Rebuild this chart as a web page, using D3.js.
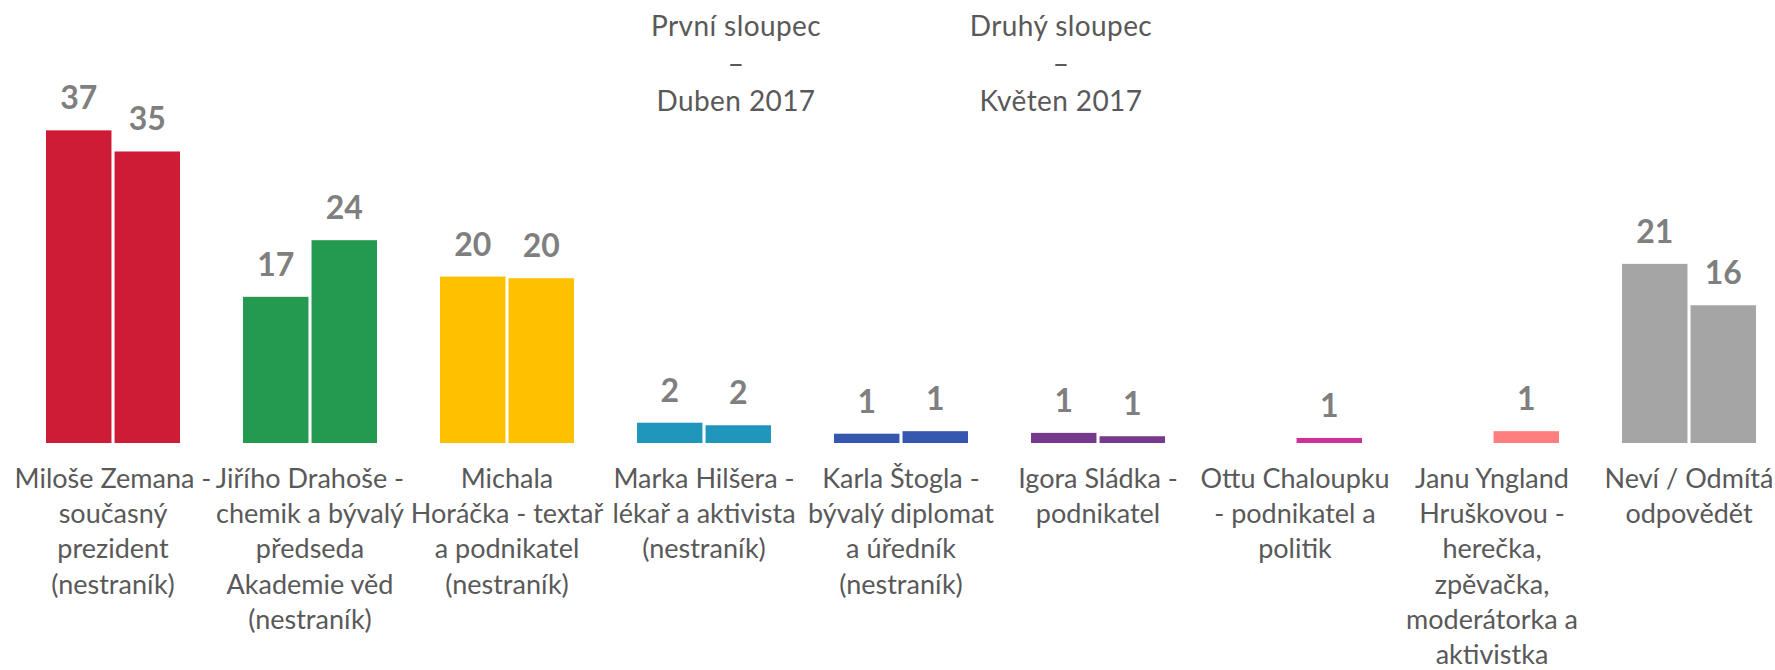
<!DOCTYPE html>
<html>
<head>
<meta charset="utf-8">
<script src="https://cdn.jsdelivr.net/npm/d3@7"></script>
<style>
  body { margin: 0; background: #fff; }
  text { font-family: Lato, "Open Sans", sans-serif; }
</style>
</head>
<body>
<div id="chart"></div>
<script>

////////////////////////////////////////////////////////////////////////
// Data

// candidate labels, "\n" marks a line break as in the original
let categories = [
  "Miloše Zemana -\nsoučasný\nprezident\n(nestraník)",
  "Jiřího Drahoše -\nchemik a bývalý\npředseda\nAkademie věd\n(nestraník)",
  "Michala\nHoráčka - textař\na podnikatel\n(nestraník)",
  "Marka Hilšera -\nlékař a aktivista\n(nestraník)",
  "Karla Štogla -\nbývalý diplomat\na úředník\n(nestraník)",
  "Igora Sládka -\npodnikatel",
  "Ottu Chaloupku\n- podnikatel a\npolitik",
  "Janu Yngland\nHruškovou -\nherečka,\nzpěvačka,\nmoderátorka a\naktivistka",
  "Neví / Odmítá\nodpovědět"
];

// first column - Duben 2017 (null = not asked)
let duben = [37.0, 17.3, 19.7, 2.4, 1.1, 1.2, null, null, 21.2];
// second column - Květen 2017
let kveten = [34.5, 24.0, 19.5, 2.1, 1.4, 0.8, 0.6, 1.4, 16.3];

let seriesNames = ["duben", "kveten"];
let legendLines = [
  ["První sloupec", "–", "Duben 2017"],
  ["Druhý sloupec", "–", "Květen 2017"]
];

let colors = ["#ce1c36", "#249a50", "#ffc000", "#2196bd", "#3557b0",
              "#753a8e", "#cc3399", "#ff7f7f", "#a5a5a5"];

////////////////////////////////////////////////////////////////////////
// Setup

let width = 1775;
let height = 670;

let svg = d3.select("#chart")
  .append("svg")
  .attr("width", width).attr("height", height);

let rows = categories.map((c, i) => ({
  name: c,
  idx: i,
  duben: duben[i],
  kveten: kveten[i]
}));

// one band per candidate, each band step is ~197px
let xScale = d3.scaleBand()
  .domain(d3.range(categories.length))
  .range([14.5, 14.5 + 197 * categories.length])
  .padding(0);

// inner band for the two columns
let xInner = d3.scaleBand()
  .domain(seriesNames)
  .range([-67, 67])
  .paddingInner(6 / 134);

let yScale = d3.scaleLinear()
  .domain([0, 40])
  .range([443, 105]);

////////////////////////////////////////////////////////////////////////
// Bars

let groups = svg.append("g")
  .selectAll("g")
  .data(rows)
  .enter()
  .append("g")
  .attr("transform", d => `translate(${xScale(d.idx) + xScale.bandwidth() / 2}, 0)`);

let bars = groups.selectAll("rect")
  .data(d => seriesNames.map(s => ({ key: s, value: d[s], idx: d.idx })).filter(b => b.value !== null))
  .enter();

bars.append("rect")
  .attr("x", b => xInner(b.key))
  .attr("y", b => yScale(b.value))
  .attr("width", xInner.bandwidth())
  .attr("height", b => yScale(0) - yScale(b.value))
  .attr("fill", b => colors[b.idx]);

// value labels above the bars
bars.append("text")
  .attr("x", b => xInner(b.key) + xInner.bandwidth() / 2)
  .attr("y", b => yScale(b.value) - 21)
  .attr("text-anchor", "middle")
  .attr("font-size", 32)
  .attr("font-weight", "bold")
  .attr("fill", "#7f7f7f")
  .text(b => Math.round(b.value));

////////////////////////////////////////////////////////////////////////
// Category labels under the bars

groups.append("text")
  .attr("text-anchor", "middle")
  .attr("font-size", 27)
  .attr("fill", "#595959")
  .selectAll("tspan")
  .data(d => d.name.split("\n"))
  .enter()
  .append("tspan")
  .attr("x", 0)
  .attr("y", (l, i) => 488 + i * 35.2)
  .text(l => l);

////////////////////////////////////////////////////////////////////////
// Legend text at the top

let legendX = [736, 1061];

svg.append("g")
  .selectAll("text")
  .data(legendLines)
  .enter()
  .append("text")
  .attr("text-anchor", "middle")
  .attr("font-size", 28)
  .attr("letter-spacing", 0.4)
  .attr("fill", "#595959")
  .each(function(lines, i) {
    d3.select(this).selectAll("tspan")
      .data(lines)
      .enter()
      .append("tspan")
      .attr("x", legendX[i])
      .attr("y", (l, j) => 36 + j * 37.5)
      .text(l => l);
  });

</script>
</body>
</html>
